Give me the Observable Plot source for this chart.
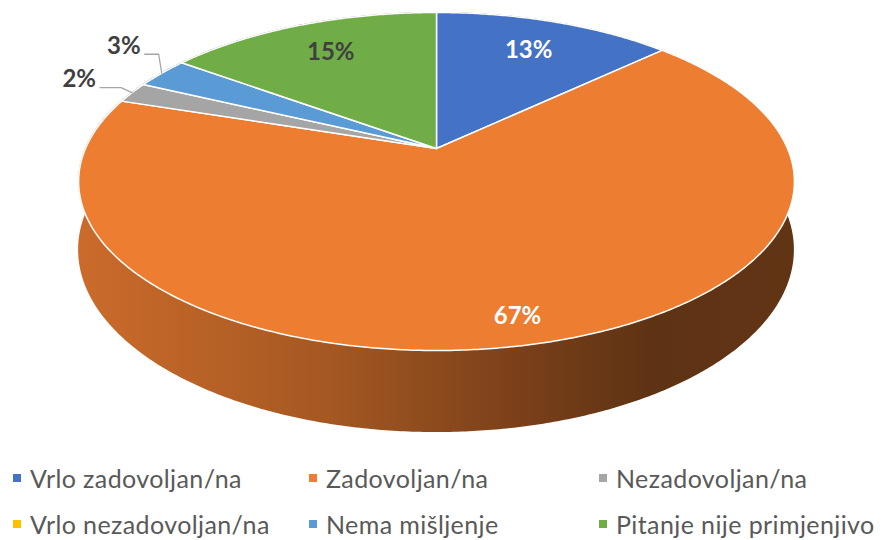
<!DOCTYPE html>
<html><head><meta charset="utf-8">
<script src="https://cdn.jsdelivr.net/npm/d3@7"></script>
<script src="https://cdn.jsdelivr.net/npm/@observablehq/plot@0.6"></script>
<style>
body{margin:0;background:#fff;font-family:Lato,"Open Sans",sans-serif;}
#chart svg{display:block;}
#legend{position:relative;width:883px;height:85px;overflow:hidden;}
.item{position:absolute;height:30px;display:flex;align-items:center;font-size:25px;letter-spacing:0.4px;color:#595959;white-space:nowrap;}
.sw{width:8px;height:8px;margin-right:9px;flex:none;}
</style></head><body>
<div id="chart"></div>
<div id="legend"></div>
<script>
// ---- data ----
const categories = ["Vrlo zadovoljan/na","Zadovoljan/na","Nezadovoljan/na","Vrlo nezadovoljan/na","Nema mišljenje","Pitanje nije primjenjivo"];
const values = [13, 67, 2, 0, 3, 15];
const colors = ["#4472C4","#ED7D31","#A5A5A5","#FFC000","#5B9BD5","#70AD47"];

// ---- layout (not data) ----
const W = 883, H = 455;
const R = 351, CX = 436;          // pie radius / centre x in px
const PC = -0.1953, PA = 133.66, PB = 148, PD = 66; // perspective + depth
const labelLayout = [
  {mode:"in", r:0.75, color:"#fff"},
  {mode:"in", r:0.88, color:"#fff"},
  {mode:"out", elbow:[-11,-5], run:21, color:"#404040"},
  {mode:"none"},
  {mode:"out", elbow:[-3,-19], run:14, color:"#404040"},
  {mode:"in", r:0.75, color:"#404040"}
];

function proj(r, t, h) {
  const u = r*Math.sin(t), v = -r*Math.cos(t), w = 1 + PC*v;
  return {x: u/w, y: (PA*v + PB + PD*h)/(w*R)};
}

const total = d3.sum(values);
let cum = 0;
const slices = values.map((v, i) => {
  const a0 = 2*Math.PI*cum/total; cum += v;
  const a1 = 2*Math.PI*cum/total;
  const n = Math.max(2, Math.ceil((a1-a0)/(Math.PI/360)));
  const ts = d3.range(n+1).map(k => a0 + (a1-a0)*k/n);
  const top = [proj(0,0,0), ...ts.map(t => proj(1,t,0)), proj(0,0,0)];
  const side = ts.map(t => { const p = proj(1,t,0), q = proj(1,t,1); return {x:p.x, y1:p.y, y2:q.y}; });
  return {i, value:v, a0, a1, mid:(a0+a1)/2, top, side, color:colors[i], label: v + "%"};
}).filter(s => s.value > 0);

const marks = [];
for (const s of slices) {
  marks.push(Plot.areaY(s.side, {x:"x", y1:"y1", y2:"y2",
    fill: s.i === 1 ? "url(#sideGrad)" : d3.color(s.color).darker(1.3).formatHex()}));
}
for (const s of slices) {
  marks.push(Plot.line(s.top, {x:"x", y:"y", fill:s.color, stroke:"white", strokeWidth:1.5, strokeLinejoin:"round"}));
}
// labels
const inLabels = [], outLabels = [], leaders = [];
for (const s of slices) {
  const L = labelLayout[s.i];
  if (L.mode === "in") {
    const p = proj(L.r, s.mid, 0);
    inLabels.push({x:p.x, y:p.y, text:s.label, color:L.color});
  } else if (L.mode === "out") {
    const p = proj(1, s.mid, 0);
    const e = {x: p.x + L.elbow[0]/R, y: p.y + L.elbow[1]/R};
    const f = {x: e.x - L.run/R, y: e.y};
    leaders.push([p, e, f]);
    outLabels.push({x:f.x, y:f.y, text:s.label, color:L.color});
  }
}
for (const ln of leaders) marks.push(Plot.line(ln, {x:"x", y:"y", stroke:"#A6A6A6", strokeWidth:1.3}));
marks.push(Plot.text(inLabels, {x:"x", y:"y", text:"text", fill:d => d.color, fontSize:24, fontWeight:"bold", textAnchor:"middle", lineAnchor:"middle"}));
marks.push(Plot.text(outLabels, {x:"x", y:"y", text:"text", fill:d => d.color, fontSize:24, fontWeight:"bold", textAnchor:"end", lineAnchor:"middle", dx:-4, dy:-8}));

const svg = Plot.plot({
  width: W, height: H,
  margin: 0,
  style: {fontFamily: "Lato, 'Open Sans', sans-serif", background: "white"},
  x: {domain:[-1,1], range:[CX-R, CX+R], axis:null},
  y: {domain:[0, H/R], range:[0, H], axis:null},
  color: {type:"identity"},
  marks
});
const ns = "http://www.w3.org/2000/svg";
const defs = document.createElementNS(ns, "defs");
defs.innerHTML = `<linearGradient id="sideGrad" x1="0" x2="1" y1="0" y2="0">
  <stop offset="0" stop-color="#CB6B2B"/>
  <stop offset="0.35" stop-color="#A55822"/>
  <stop offset="0.6" stop-color="#7D411A"/>
  <stop offset="0.8" stop-color="#5E3314"/>
  <stop offset="1" stop-color="#613414"/>
</linearGradient>`;
svg.insertBefore(defs, svg.firstChild);
document.getElementById("chart").appendChild(svg);

// legend
const legend = document.getElementById("legend");
const colX = [13, 309, 599], rowY = [8, 54];
categories.forEach((c, i) => {
  const it = document.createElement("div");
  it.className = "item";
  it.style.left = colX[i % 3] + "px";
  it.style.top = rowY[Math.floor(i / 3)] + "px";
  it.innerHTML = `<span class="sw" style="background:${colors[i]}"></span><span>${c}</span>`;
  legend.appendChild(it);
});
</script>
</body></html>
